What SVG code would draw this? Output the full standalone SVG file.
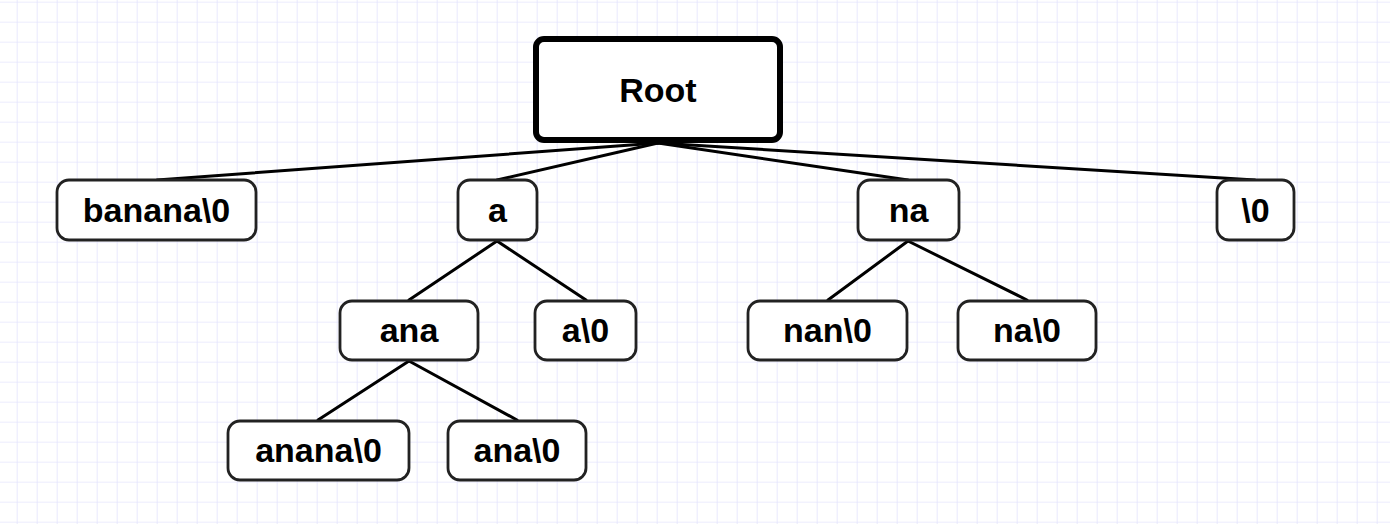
<svg xmlns="http://www.w3.org/2000/svg" width="1390" height="524" viewBox="0 0 1390 524">
  <style>
    .node rect { fill: #ffffff; stroke: #222222; stroke-width: 2.8; }
    .root rect { fill: #ffffff; stroke: #000000; stroke-width: 6; }
    .node text, .root text { font-family: "Liberation Sans", Arial, Helvetica, sans-serif; font-weight: bold; font-size: 34px; fill: #000000; text-anchor: middle; }
    #edges line { stroke: #000000; stroke-width: 3; stroke-linecap: round; }
  </style>
  <defs>
    <pattern id="grid" x="16.7" y="1.7" width="20" height="20" patternUnits="userSpaceOnUse">
      <rect width="20" height="20" fill="#ffffff"/>
      <path d="M0 0H20M0 0V20" stroke="#e6e6fd" stroke-width="1.7" fill="none"/>
    </pattern>
  </defs>

  <!-- background grid -->
  <rect width="1390" height="524" fill="url(#grid)"/>

  <!-- connectors -->
  <g id="edges">
    <line x1="658" y1="143" x2="157" y2="180"/>
    <line x1="658" y1="143" x2="497" y2="180"/>
    <line x1="658" y1="143" x2="908" y2="180"/>
    <line x1="658" y1="143" x2="1255" y2="180"/>
    <line x1="497" y1="241" x2="409" y2="300"/>
    <line x1="497" y1="241" x2="586" y2="300"/>
    <line x1="409" y1="361" x2="318" y2="420"/>
    <line x1="409" y1="361" x2="517" y2="420"/>
    <line x1="908" y1="241" x2="828" y2="300"/>
    <line x1="908" y1="241" x2="1027" y2="300"/>
  </g>

  <!-- nodes -->
  <g id="root" class="root">
    <rect x="536" y="39" width="244" height="101" rx="8"/>
    <text x="658" y="102">Root</text>
  </g>
  <g id="banana" class="node">
    <rect x="57" y="180" width="199" height="60" rx="12"/>
    <text x="156.5" y="222">banana\0</text>
  </g>
  <g id="a" class="node">
    <rect x="458" y="180" width="79" height="60" rx="12"/>
    <text x="497.5" y="222">a</text>
  </g>
  <g id="na" class="node">
    <rect x="858" y="180" width="101" height="60" rx="12"/>
    <text x="908.5" y="222">na</text>
  </g>
  <g id="term" class="node">
    <rect x="1217" y="180" width="77" height="60" rx="12"/>
    <text x="1255.5" y="222">\0</text>
  </g>
  <g id="ana" class="node">
    <rect x="340" y="301" width="138" height="59" rx="12"/>
    <text x="409" y="342">ana</text>
  </g>
  <g id="a0" class="node">
    <rect x="535" y="301" width="101" height="59" rx="12"/>
    <text x="585.5" y="342">a\0</text>
  </g>
  <g id="nan0" class="node">
    <rect x="748" y="301" width="159" height="59" rx="12"/>
    <text x="827.5" y="342">nan\0</text>
  </g>
  <g id="na0" class="node">
    <rect x="958" y="301" width="138" height="59" rx="12"/>
    <text x="1027" y="342">na\0</text>
  </g>
  <g id="anana0" class="node">
    <rect x="228" y="421" width="181" height="59" rx="12"/>
    <text x="318.5" y="462">anana\0</text>
  </g>
  <g id="ana0" class="node">
    <rect x="448" y="421" width="138" height="59" rx="12"/>
    <text x="517" y="462">ana\0</text>
  </g>
</svg>
